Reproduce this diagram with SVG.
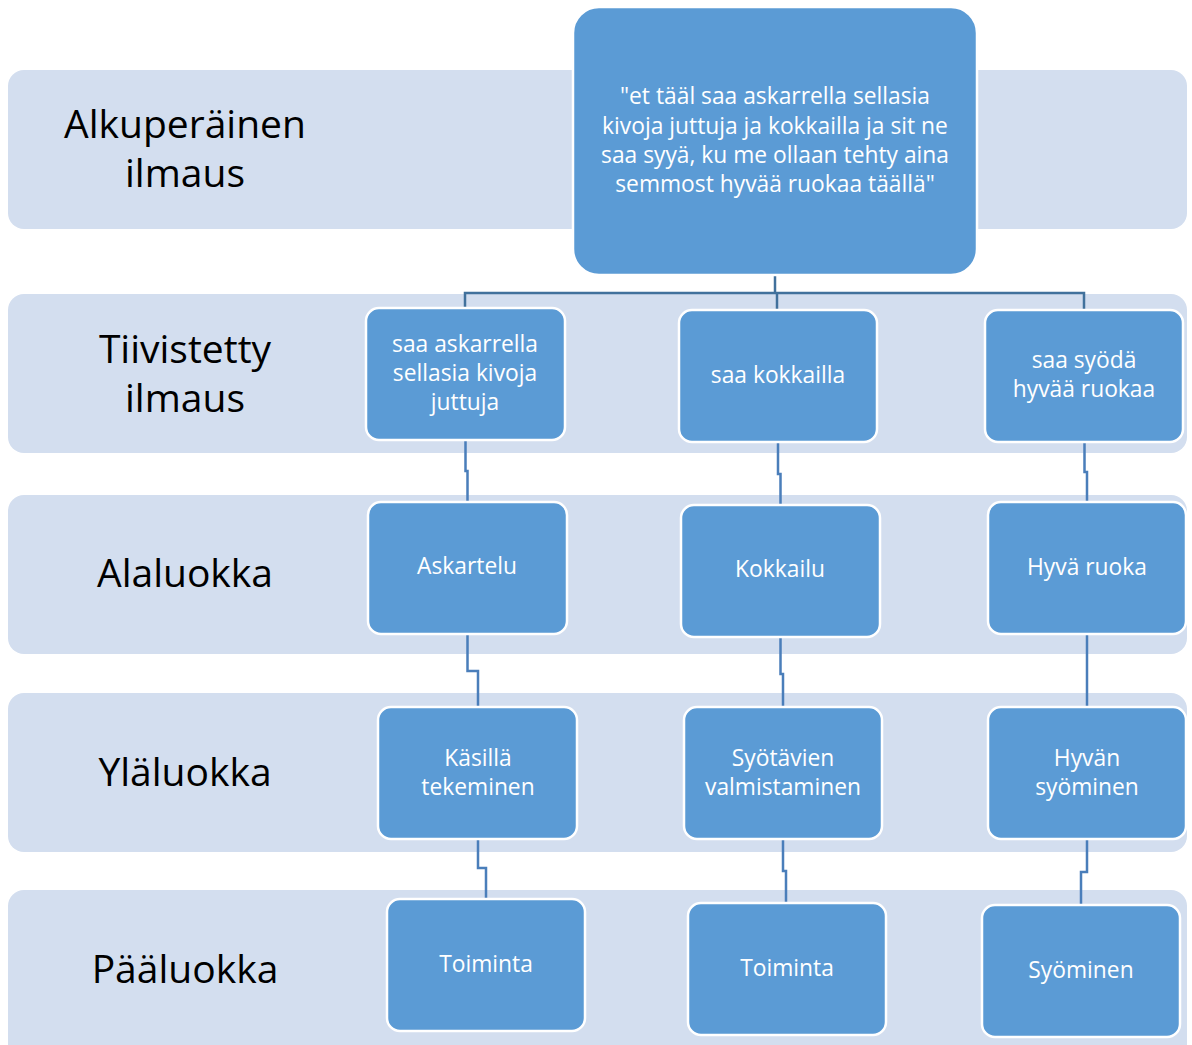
<svg xmlns="http://www.w3.org/2000/svg" width="1192" height="1045" viewBox="0 0 1192 1045">
<style>
.band{fill:#D3DEEF}
.node{fill:#5B9BD5;stroke:#FFFFFF;stroke-width:2.5}
.lbl{font-family:"Open Sans","Noto Sans",sans-serif;font-size:39px;fill:#000;text-anchor:middle}
.t{font-family:"Open Sans","Noto Sans",sans-serif;font-size:22.8px;fill:#FFFFFF;text-anchor:middle}
.c{fill:none;stroke:#4A7EBA;stroke-width:2.5}
.ct{fill:none;stroke:#41719C;stroke-width:2.5}
</style>
<rect width="1192" height="1045" fill="#FFFFFF"/>
<g id="bands">
<rect class="band" x="8" y="70" width="1179" height="159" rx="16"/>
<rect class="band" x="8" y="294" width="1179" height="159" rx="16"/>
<rect class="band" x="8" y="495" width="1179" height="159" rx="16"/>
<rect class="band" x="8" y="693" width="1179" height="159" rx="16"/>
<rect class="band" x="8" y="890" width="1179" height="175" rx="16"/>
</g>
<g id="labels">
<text class="lbl" x="185" y="138">Alkuperäinen</text>
<text class="lbl" x="185" y="187">ilmaus</text>
<text class="lbl" x="185" y="363">Tiivistetty</text>
<text class="lbl" x="185" y="412">ilmaus</text>
<text class="lbl" x="185" y="587">Alaluokka</text>
<text class="lbl" x="185" y="786">Yläluokka</text>
<text class="lbl" x="185" y="983">Pääluokka</text>
</g>
<g id="connectors">
<polyline class="ct" points="775,275 775,293"/>
<polyline class="ct" points="465,308 465,293 1084,293 1084,310"/>
<polyline class="ct" points="777,293 777,310"/>
<polyline class="c" points="465.5,440 465.5,471 467.5,471 467.5,502"/>
<polyline class="c" points="778,442 778,474 780.5,474 780.5,505"/>
<polyline class="c" points="1084.5,442 1084.5,472 1087,472 1087,502"/>
<polyline class="c" points="467.5,634 467.5,671 478,671 478,707"/>
<polyline class="c" points="780.5,637 780.5,674 783,674 783,707"/>
<polyline class="c" points="1087,634 1087,707"/>
<polyline class="c" points="478,839 478,868 486,868 486,899"/>
<polyline class="c" points="783,839 783,871 786,871 786,903"/>
<polyline class="c" points="1087,839 1087,872 1081,872 1081,905"/>
</g>
<g id="n-top">
<rect class="node" x="573" y="7" width="404" height="268" rx="26"/>
<text class="t" x="775" y="104">"et tääl saa askarrella sellasia</text>
<text class="t" x="775" y="134">kivoja juttuja ja kokkailla ja sit ne</text>
<text class="t" x="775" y="163">saa syyä, ku me ollaan tehty aina</text>
<text class="t" x="775" y="192">semmost hyvää ruokaa täällä"</text>
</g>
<g id="n-r2a">
<rect class="node" x="366" y="308" width="199" height="132" rx="13"/>
<text class="t" x="465" y="352">saa askarrella</text>
<text class="t" x="465" y="381">sellasia kivoja</text>
<text class="t" x="465" y="410">juttuja</text>
</g>
<g id="n-r2b">
<rect class="node" x="679" y="310" width="198" height="132" rx="13"/>
<text class="t" x="778" y="383">saa kokkailla</text>
</g>
<g id="n-r2c">
<rect class="node" x="985" y="310" width="198" height="132" rx="13"/>
<text class="t" x="1084" y="368">saa syödä</text>
<text class="t" x="1084" y="397">hyvää ruokaa</text>
</g>
<g id="n-r3a">
<rect class="node" x="368" y="502" width="199" height="132" rx="13"/>
<text class="t" x="467" y="574">Askartelu</text>
</g>
<g id="n-r3b">
<rect class="node" x="681" y="505" width="199" height="132" rx="13"/>
<text class="t" x="780" y="577">Kokkailu</text>
</g>
<g id="n-r3c">
<rect class="node" x="988" y="502" width="198" height="132" rx="13"/>
<text class="t" x="1087" y="575">Hyvä ruoka</text>
</g>
<g id="n-r4a">
<rect class="node" x="378" y="707" width="199" height="132" rx="13"/>
<text class="t" x="478" y="766">Käsillä</text>
<text class="t" x="478" y="795">tekeminen</text>
</g>
<g id="n-r4b">
<rect class="node" x="684" y="707" width="198" height="132" rx="13"/>
<text class="t" x="783" y="766">Syötävien</text>
<text class="t" x="783" y="795">valmistaminen</text>
</g>
<g id="n-r4c">
<rect class="node" x="988" y="707" width="198" height="132" rx="13"/>
<text class="t" x="1087" y="766">Hyvän</text>
<text class="t" x="1087" y="795">syöminen</text>
</g>
<g id="n-r5a">
<rect class="node" x="387" y="899" width="198" height="132" rx="13"/>
<text class="t" x="486" y="972">Toiminta</text>
</g>
<g id="n-r5b">
<rect class="node" x="688" y="903" width="198" height="132" rx="13"/>
<text class="t" x="787" y="976">Toiminta</text>
</g>
<g id="n-r5c">
<rect class="node" x="982" y="905" width="198" height="132" rx="13"/>
<text class="t" x="1081" y="978">Syöminen</text>
</g>
</svg>
